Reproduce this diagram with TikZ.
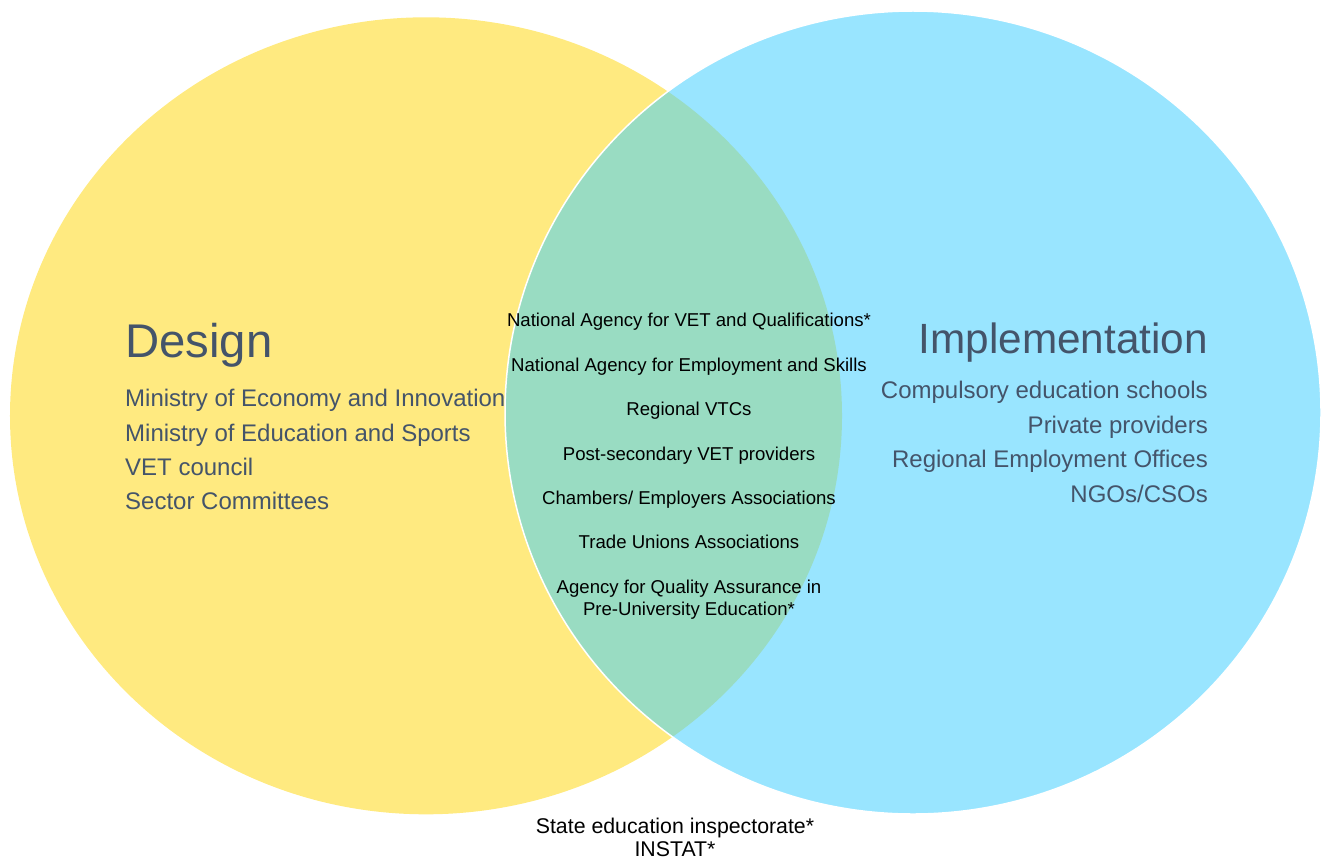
\documentclass[tikz,border=0pt]{standalone}
\usepackage{fontspec}
\setmainfont{Liberation Sans}
\usetikzlibrary{positioning}

\definecolor{designyellow}{HTML}{FFEA80}
\definecolor{implblue}{HTML}{99E5FF}
\definecolor{overlapgreen}{HTML}{99DCC2}
\definecolor{slate}{HTML}{44546A}

\begin{document}
\begin{tikzpicture}[x=1bp, y=-1bp,
    heading/.style={text=slate, inner sep=0pt},
    actor/.style={text=slate, inner sep=0pt, font=\fontsize{24bp}{28bp}\selectfont},
    shared/.style={inner sep=0pt, anchor=base, align=center, font=\fontsize{18.6bp}{22.3bp}\selectfont},
    outside/.style={inner sep=0pt, anchor=base, align=center, font=\fontsize{21.3bp}{23.3bp}\selectfont}]
    \useasboundingbox (0,0) rectangle (1330,860);

    % the two sets
    \fill[designyellow] (426,415.8) ellipse [x radius=416bp, y radius=398.5bp];
    \fill[implblue] (913,412.5) ellipse [x radius=408bp, y radius=401.5bp];
    \begin{scope}
        \clip (426,415.8) ellipse [x radius=416bp, y radius=398.5bp];
        \fill[overlapgreen] (913,412.5) ellipse [x radius=408bp, y radius=401.5bp];
    \end{scope}
    \draw[white, line width=1.5bp] (913,412.5) ellipse [x radius=408bp, y radius=401.5bp];

    % design side
    \node[heading, anchor=base west, font=\fontsize{47.3bp}{50bp}\selectfont] (design) at (125,357.3) {Design};
    \node[actor, anchor=base west] (ministryEcon) at (125,406.5) {Ministry of Economy and Innovation};
    \node[actor, anchor=base west] (ministryEdu) at (125,441) {Ministry of Education and Sports};
    \node[actor, anchor=base west] (vetCouncil) at (125,475.5) {VET council};
    \node[actor, anchor=base west] (sectorComm) at (125,509.5) {Sector Committees};

    % implementation side
    \node[heading, anchor=base east, font=\fontsize{42.3bp}{46bp}\selectfont] (implementation) at (1208,353) {Implementation};
    \node[actor, anchor=base east] (schools) at (1208,398.8) {Compulsory education schools};
    \node[actor, anchor=base east] (private) at (1208,433.3) {Private providers};
    \node[actor, anchor=base east] (regOffices) at (1208,467.8) {Regional Employment Offices};
    \node[actor, anchor=base east] (ngos) at (1208,502.2) {NGOs/CSOs};

    % both
    \node[shared] (navetq) at (689,326.5) {National Agency for VET and Qualifications*};
    \node[shared] (naes) at (689,371) {National Agency for Employment and Skills};
    \node[shared] (vtcs) at (689,415.5) {Regional VTCs};
    \node[shared] (postsec) at (689,460) {Post-secondary VET providers};
    \node[shared] (chambers) at (689,504.5) {Chambers/ Employers Associations};
    \node[shared] (unions) at (689,548.8) {Trade Unions Associations};
    \node[shared] (aqa) at (689,615.5) {Agency for Quality Assurance in\\Pre-University Education*};

    % neither
    \node[outside] (inspect) at (675,856.5) {State education inspectorate*\\INSTAT*};
\end{tikzpicture}
\end{document}
